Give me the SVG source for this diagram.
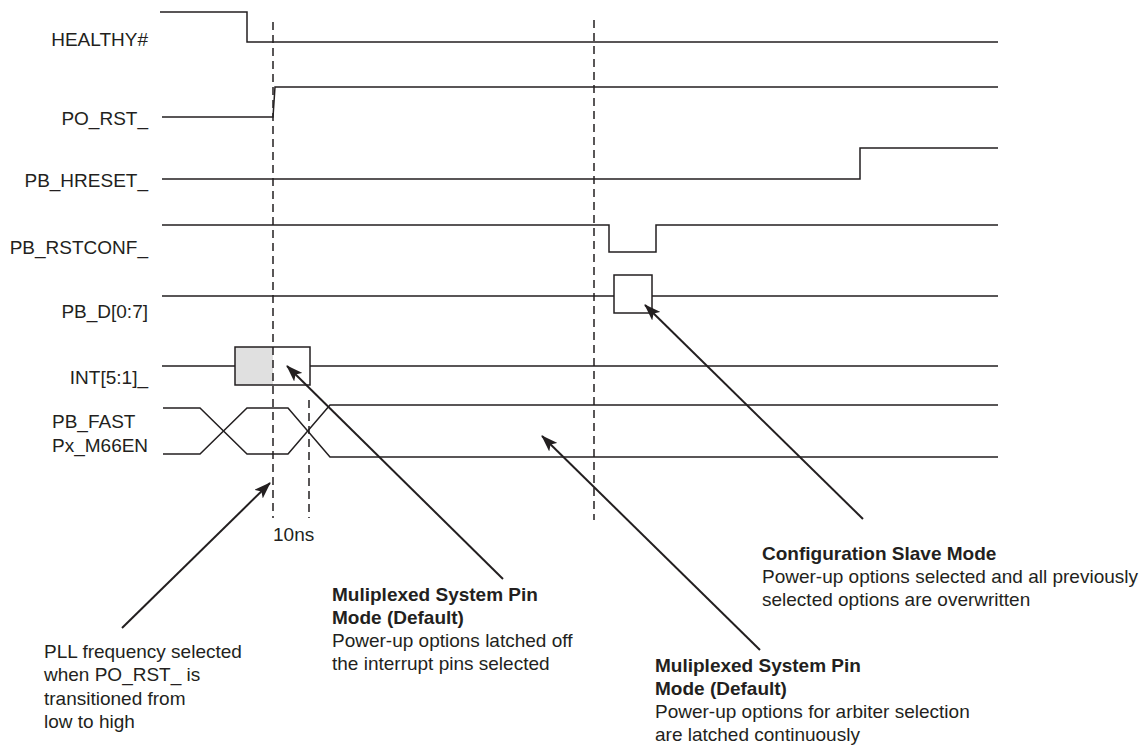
<svg xmlns="http://www.w3.org/2000/svg" width="1148" height="746" viewBox="0 0 1148 746">
<style>
.sig{fill:none;stroke:#231f20;stroke-width:1.5}
.dash{fill:none;stroke:#231f20;stroke-width:1.5;stroke-dasharray:8 5}
.arr{fill:none;stroke:#231f20;stroke-width:2}
text{font-family:"Liberation Sans",Arial,sans-serif;font-size:19px;fill:#231f20}
.lbl{text-anchor:end}
.b{font-weight:bold}
</style>
<defs>
<marker id="ah" markerWidth="18" markerHeight="12" refX="16" refY="6" orient="auto" markerUnits="userSpaceOnUse">
<path d="M0,0 L17,6 L0,12 L4,6 Z" fill="#231f20"/>
</marker>
</defs>
<rect width="1148" height="746" fill="#fff"/>
<g id="sig-healthy">
<text class="lbl" x="148" y="46">HEALTHY#</text>
<path class="sig" d="M160,12 H247 V42 H998"/>
</g>
<g id="sig-porst">
<text class="lbl" x="148" y="125">PO_RST_</text>
<path class="sig" d="M162,117 H273 L275,87 H998"/>
</g>
<g id="sig-hreset">
<text class="lbl" x="148" y="187">PB_HRESET_</text>
<path class="sig" d="M162,179 H860 V148 H998"/>
</g>
<g id="sig-rstconf">
<text class="lbl" x="148" y="254">PB_RSTCONF_</text>
<path class="sig" d="M162,225 H609 V252 H656 V225 H998"/>
</g>
<g id="sig-pbd">
<text class="lbl" x="148" y="318">PB_D[0:7]</text>
<path class="sig" d="M162,296 H614 M652,296 H998"/>
<rect class="sig" x="614" y="275" width="38" height="38"/>
</g>
<g id="sig-int">
<text class="lbl" x="148" y="384">INT[5:1]_</text>
<path class="sig" d="M162,366 H235 M310,366 H998"/>
<rect x="235" y="347" width="38" height="38" fill="#e0e0e0"/>
<rect class="sig" x="235" y="347" width="75" height="38"/>
</g>
<g id="sig-pbfast">
<text x="52" y="428">PB_FAST</text>
<text x="52" y="452">Px_M66EN</text>
<path class="sig" d="M163,408 H200 L247,454 H288 L330,405 H998"/>
<path class="sig" d="M163,454 H200 L247,408 H288 L330,457 H998"/>
</g>
<g id="timing">
<line class="dash" x1="273" y1="22" x2="273" y2="518"/>
<line class="dash" x1="309" y1="400" x2="309" y2="518"/>
<line class="dash" x1="594" y1="20" x2="594" y2="520"/>
<text x="273" y="541">10ns</text>
</g>
<g id="connectors">
<line class="arr" x1="122" y1="628" x2="270" y2="483" marker-end="url(#ah)"/>
<line class="arr" x1="503" y1="579" x2="287" y2="366" marker-end="url(#ah)"/>
<line class="arr" x1="760" y1="650" x2="542" y2="436" marker-end="url(#ah)"/>
<line class="arr" x1="863" y1="519" x2="645" y2="305" marker-end="url(#ah)"/>
</g>
<g id="note-pll">
<text x="44" y="658">PLL frequency selected</text>
<text x="44" y="681">when PO_RST_ is</text>
<text x="44" y="705">transitioned from</text>
<text x="44" y="728">low to high</text>
</g>
<g id="note-mux1">
<text class="b" x="332" y="601">Muliplexed System Pin</text>
<text class="b" x="332" y="624">Mode (Default)</text>
<text x="332" y="647">Power-up options latched off</text>
<text x="332" y="670">the interrupt pins selected</text>
</g>
<g id="note-config">
<text class="b" x="762" y="560">Configuration Slave Mode</text>
<text x="762" y="583">Power-up options selected and all previously</text>
<text x="762" y="606">selected options are overwritten</text>
</g>
<g id="note-mux2">
<text class="b" x="655" y="672">Muliplexed System Pin</text>
<text class="b" x="655" y="695">Mode (Default)</text>
<text x="655" y="718">Power-up options for arbiter selection</text>
<text x="655" y="741">are latched continuously</text>
</g>
</svg>
